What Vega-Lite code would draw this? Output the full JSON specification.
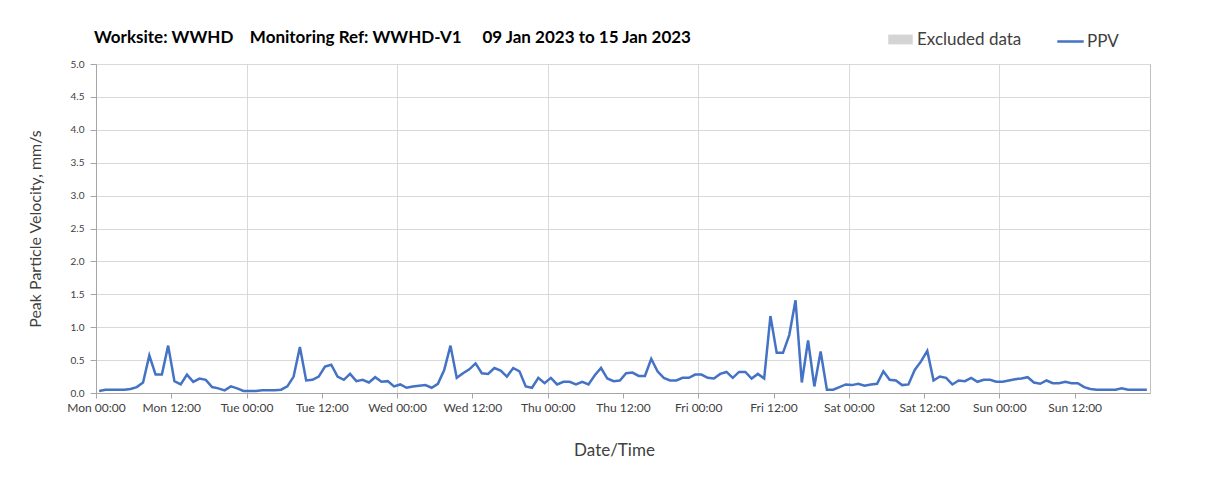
{
  "$schema": "https://vega.github.io/schema/vega-lite/v6.json",
  "width": 1054,
  "height": 329,
  "autosize": {"type": "none"},
  "padding": {"left": 96, "top": 64, "right": 58, "bottom": 93},
  "background": "white",
  "title": {
    "text": "Worksite: WWHD\u00a0\u00a0\u00a0 Monitoring Ref: WWHD-V1\u00a0\u00a0\u00a0\u00a0 09 Jan 2023 to 15 Jan 2023",
    "anchor": "start",
    "frame": "group",
    "font": "Lato",
    "fontSize": 17,
    "fontWeight": "bold",
    "color": "#000000",
    "offset": -20,
    "dx": -2
  },
  "config": {
    "view": {"stroke": "#bfbfbf", "strokeWidth": 1},
    "font": "Lato"
  },
  "data": {
    "values": [
      {"t": "2023-01-09T00:30:00Z", "v": 0.03}, {"t": "2023-01-09T01:30:00Z", "v": 0.05}, {"t": "2023-01-09T02:30:00Z", "v": 0.05}, {"t": "2023-01-09T03:30:00Z", "v": 0.05},
      {"t": "2023-01-09T04:30:00Z", "v": 0.05}, {"t": "2023-01-09T05:30:00Z", "v": 0.06}, {"t": "2023-01-09T06:30:00Z", "v": 0.09}, {"t": "2023-01-09T07:30:00Z", "v": 0.16},
      {"t": "2023-01-09T08:30:00Z", "v": 0.57}, {"t": "2023-01-09T09:30:00Z", "v": 0.28}, {"t": "2023-01-09T10:30:00Z", "v": 0.28}, {"t": "2023-01-09T11:30:00Z", "v": 0.72},
      {"t": "2023-01-09T12:30:00Z", "v": 0.18}, {"t": "2023-01-09T13:30:00Z", "v": 0.13}, {"t": "2023-01-09T14:30:00Z", "v": 0.28}, {"t": "2023-01-09T15:30:00Z", "v": 0.17},
      {"t": "2023-01-09T16:30:00Z", "v": 0.22}, {"t": "2023-01-09T17:30:00Z", "v": 0.2}, {"t": "2023-01-09T18:30:00Z", "v": 0.09}, {"t": "2023-01-09T19:30:00Z", "v": 0.07},
      {"t": "2023-01-09T20:30:00Z", "v": 0.04}, {"t": "2023-01-09T21:30:00Z", "v": 0.1}, {"t": "2023-01-09T22:30:00Z", "v": 0.07}, {"t": "2023-01-09T23:30:00Z", "v": 0.03},
      {"t": "2023-01-10T00:30:00Z", "v": 0.03}, {"t": "2023-01-10T01:30:00Z", "v": 0.03}, {"t": "2023-01-10T02:30:00Z", "v": 0.04}, {"t": "2023-01-10T03:30:00Z", "v": 0.04},
      {"t": "2023-01-10T04:30:00Z", "v": 0.04}, {"t": "2023-01-10T05:30:00Z", "v": 0.05}, {"t": "2023-01-10T06:30:00Z", "v": 0.1}, {"t": "2023-01-10T07:30:00Z", "v": 0.25},
      {"t": "2023-01-10T08:30:00Z", "v": 0.7}, {"t": "2023-01-10T09:30:00Z", "v": 0.19}, {"t": "2023-01-10T10:30:00Z", "v": 0.2}, {"t": "2023-01-10T11:30:00Z", "v": 0.25},
      {"t": "2023-01-10T12:30:00Z", "v": 0.4}, {"t": "2023-01-10T13:30:00Z", "v": 0.43}, {"t": "2023-01-10T14:30:00Z", "v": 0.25}, {"t": "2023-01-10T15:30:00Z", "v": 0.2},
      {"t": "2023-01-10T16:30:00Z", "v": 0.29}, {"t": "2023-01-10T17:30:00Z", "v": 0.18}, {"t": "2023-01-10T18:30:00Z", "v": 0.2}, {"t": "2023-01-10T19:30:00Z", "v": 0.16},
      {"t": "2023-01-10T20:30:00Z", "v": 0.24}, {"t": "2023-01-10T21:30:00Z", "v": 0.17}, {"t": "2023-01-10T22:30:00Z", "v": 0.18}, {"t": "2023-01-10T23:30:00Z", "v": 0.1},
      {"t": "2023-01-11T00:30:00Z", "v": 0.13}, {"t": "2023-01-11T01:30:00Z", "v": 0.08}, {"t": "2023-01-11T02:30:00Z", "v": 0.1}, {"t": "2023-01-11T03:30:00Z", "v": 0.11},
      {"t": "2023-01-11T04:30:00Z", "v": 0.12}, {"t": "2023-01-11T05:30:00Z", "v": 0.08}, {"t": "2023-01-11T06:30:00Z", "v": 0.14}, {"t": "2023-01-11T07:30:00Z", "v": 0.35},
      {"t": "2023-01-11T08:30:00Z", "v": 0.72}, {"t": "2023-01-11T09:30:00Z", "v": 0.23}, {"t": "2023-01-11T10:30:00Z", "v": 0.3}, {"t": "2023-01-11T11:30:00Z", "v": 0.36},
      {"t": "2023-01-11T12:30:00Z", "v": 0.45}, {"t": "2023-01-11T13:30:00Z", "v": 0.3}, {"t": "2023-01-11T14:30:00Z", "v": 0.29}, {"t": "2023-01-11T15:30:00Z", "v": 0.38},
      {"t": "2023-01-11T16:30:00Z", "v": 0.34}, {"t": "2023-01-11T17:30:00Z", "v": 0.25}, {"t": "2023-01-11T18:30:00Z", "v": 0.38}, {"t": "2023-01-11T19:30:00Z", "v": 0.33},
      {"t": "2023-01-11T20:30:00Z", "v": 0.1}, {"t": "2023-01-11T21:30:00Z", "v": 0.08}, {"t": "2023-01-11T22:30:00Z", "v": 0.23}, {"t": "2023-01-11T23:30:00Z", "v": 0.15},
      {"t": "2023-01-12T00:30:00Z", "v": 0.23}, {"t": "2023-01-12T01:30:00Z", "v": 0.13}, {"t": "2023-01-12T02:30:00Z", "v": 0.17}, {"t": "2023-01-12T03:30:00Z", "v": 0.17},
      {"t": "2023-01-12T04:30:00Z", "v": 0.13}, {"t": "2023-01-12T05:30:00Z", "v": 0.17}, {"t": "2023-01-12T06:30:00Z", "v": 0.13}, {"t": "2023-01-12T07:30:00Z", "v": 0.27},
      {"t": "2023-01-12T08:30:00Z", "v": 0.38}, {"t": "2023-01-12T09:30:00Z", "v": 0.22}, {"t": "2023-01-12T10:30:00Z", "v": 0.18}, {"t": "2023-01-12T11:30:00Z", "v": 0.19},
      {"t": "2023-01-12T12:30:00Z", "v": 0.3}, {"t": "2023-01-12T13:30:00Z", "v": 0.31}, {"t": "2023-01-12T14:30:00Z", "v": 0.26}, {"t": "2023-01-12T15:30:00Z", "v": 0.26},
      {"t": "2023-01-12T16:30:00Z", "v": 0.52}, {"t": "2023-01-12T17:30:00Z", "v": 0.33}, {"t": "2023-01-12T18:30:00Z", "v": 0.23}, {"t": "2023-01-12T19:30:00Z", "v": 0.19},
      {"t": "2023-01-12T20:30:00Z", "v": 0.19}, {"t": "2023-01-12T21:30:00Z", "v": 0.23}, {"t": "2023-01-12T22:30:00Z", "v": 0.23}, {"t": "2023-01-12T23:30:00Z", "v": 0.28},
      {"t": "2023-01-13T00:30:00Z", "v": 0.28}, {"t": "2023-01-13T01:30:00Z", "v": 0.23}, {"t": "2023-01-13T02:30:00Z", "v": 0.22}, {"t": "2023-01-13T03:30:00Z", "v": 0.29},
      {"t": "2023-01-13T04:30:00Z", "v": 0.32}, {"t": "2023-01-13T05:30:00Z", "v": 0.23}, {"t": "2023-01-13T06:30:00Z", "v": 0.32}, {"t": "2023-01-13T07:30:00Z", "v": 0.32},
      {"t": "2023-01-13T08:30:00Z", "v": 0.22}, {"t": "2023-01-13T09:30:00Z", "v": 0.29}, {"t": "2023-01-13T10:30:00Z", "v": 0.22}, {"t": "2023-01-13T11:30:00Z", "v": 1.17},
      {"t": "2023-01-13T12:30:00Z", "v": 0.61}, {"t": "2023-01-13T13:30:00Z", "v": 0.61}, {"t": "2023-01-13T14:30:00Z", "v": 0.88}, {"t": "2023-01-13T15:30:00Z", "v": 1.41},
      {"t": "2023-01-13T16:30:00Z", "v": 0.16}, {"t": "2023-01-13T17:30:00Z", "v": 0.8}, {"t": "2023-01-13T18:30:00Z", "v": 0.1}, {"t": "2023-01-13T19:30:00Z", "v": 0.63},
      {"t": "2023-01-13T20:30:00Z", "v": 0.05}, {"t": "2023-01-13T21:30:00Z", "v": 0.05}, {"t": "2023-01-13T22:30:00Z", "v": 0.09}, {"t": "2023-01-13T23:30:00Z", "v": 0.13},
      {"t": "2023-01-14T00:30:00Z", "v": 0.12}, {"t": "2023-01-14T01:30:00Z", "v": 0.14}, {"t": "2023-01-14T02:30:00Z", "v": 0.11}, {"t": "2023-01-14T03:30:00Z", "v": 0.13},
      {"t": "2023-01-14T04:30:00Z", "v": 0.14}, {"t": "2023-01-14T05:30:00Z", "v": 0.33}, {"t": "2023-01-14T06:30:00Z", "v": 0.2}, {"t": "2023-01-14T07:30:00Z", "v": 0.19},
      {"t": "2023-01-14T08:30:00Z", "v": 0.12}, {"t": "2023-01-14T09:30:00Z", "v": 0.13}, {"t": "2023-01-14T10:30:00Z", "v": 0.35}, {"t": "2023-01-14T11:30:00Z", "v": 0.48},
      {"t": "2023-01-14T12:30:00Z", "v": 0.64}, {"t": "2023-01-14T13:30:00Z", "v": 0.19}, {"t": "2023-01-14T14:30:00Z", "v": 0.25}, {"t": "2023-01-14T15:30:00Z", "v": 0.23},
      {"t": "2023-01-14T16:30:00Z", "v": 0.13}, {"t": "2023-01-14T17:30:00Z", "v": 0.19}, {"t": "2023-01-14T18:30:00Z", "v": 0.18}, {"t": "2023-01-14T19:30:00Z", "v": 0.23},
      {"t": "2023-01-14T20:30:00Z", "v": 0.17}, {"t": "2023-01-14T21:30:00Z", "v": 0.2}, {"t": "2023-01-14T22:30:00Z", "v": 0.2}, {"t": "2023-01-14T23:30:00Z", "v": 0.17},
      {"t": "2023-01-15T00:30:00Z", "v": 0.17}, {"t": "2023-01-15T01:30:00Z", "v": 0.19}, {"t": "2023-01-15T02:30:00Z", "v": 0.21}, {"t": "2023-01-15T03:30:00Z", "v": 0.22},
      {"t": "2023-01-15T04:30:00Z", "v": 0.24}, {"t": "2023-01-15T05:30:00Z", "v": 0.16}, {"t": "2023-01-15T06:30:00Z", "v": 0.14}, {"t": "2023-01-15T07:30:00Z", "v": 0.19},
      {"t": "2023-01-15T08:30:00Z", "v": 0.15}, {"t": "2023-01-15T09:30:00Z", "v": 0.15}, {"t": "2023-01-15T10:30:00Z", "v": 0.17}, {"t": "2023-01-15T11:30:00Z", "v": 0.15},
      {"t": "2023-01-15T12:30:00Z", "v": 0.15}, {"t": "2023-01-15T13:30:00Z", "v": 0.09}, {"t": "2023-01-15T14:30:00Z", "v": 0.06}, {"t": "2023-01-15T15:30:00Z", "v": 0.05},
      {"t": "2023-01-15T16:30:00Z", "v": 0.05}, {"t": "2023-01-15T17:30:00Z", "v": 0.05}, {"t": "2023-01-15T18:30:00Z", "v": 0.05}, {"t": "2023-01-15T19:30:00Z", "v": 0.07},
      {"t": "2023-01-15T20:30:00Z", "v": 0.05}, {"t": "2023-01-15T21:30:00Z", "v": 0.05}, {"t": "2023-01-15T22:30:00Z", "v": 0.05}, {"t": "2023-01-15T23:30:00Z", "v": 0.05}
    ]
  },
  "layer": [
    {
      "mark": {"type": "line", "strokeWidth": 2.5},
      "encoding": {
        "x": {
          "field": "t",
          "type": "temporal",
          "scale": {"type": "utc", "domain": [1673222400000, 1673827200000]},
          "axis": {
            "title": "Date/Time",
            "titleFont": "Lato",
            "titleFontSize": 17,
            "titleFontWeight": "normal",
            "titleColor": "#404040",
            "titlePadding": 29,
            "titleX": 518,
            "values": [1673222400000, 1673265600000, 1673308800000, 1673352000000, 1673395200000, 1673438400000, 1673481600000, 1673524800000, 1673568000000, 1673611200000, 1673654400000, 1673697600000, 1673740800000, 1673784000000],
            "format": "%a %H:%M",
            "labelFont": "Lato",
            "labelFontSize": 12,
            "labelColor": "#404040",
            "labelFlush": false,
            "labelOverlap": false,
            "labelPadding": 4,
            "tickSize": 5,
            "tickColor": "#a6a6a6",
            "domainColor": "#a6a6a6",
            "grid": true,
            "gridColor": "#d9d9d9",
            "gridOpacity": {"condition": {"test": "utchours(datum.value) == 0", "value": 1}, "value": 0}
          }
        },
        "y": {
          "field": "v",
          "type": "quantitative",
          "scale": {"domain": [0, 5]},
          "axis": {
            "title": "Peak Particle Velocity, mm/s",
            "titleFont": "Lato",
            "titleFontSize": 16,
            "titleFontWeight": "normal",
            "titleColor": "#404040",
            "titlePadding": 27,
            "values": [0, 0.5, 1, 1.5, 2, 2.5, 3, 3.5, 4, 4.5, 5],
            "format": ".1f",
            "labelFont": "Lato",
            "labelFontSize": 10,
            "labelColor": "#404040",
            "labelPadding": 6,
            "tickSize": 6,
            "tickColor": "#a6a6a6",
            "domainColor": "#a6a6a6",
            "grid": true,
            "gridColor": "#d9d9d9"
          }
        },
        "stroke": {
          "datum": "PPV",
          "scale": {"range": ["#4472C4"]},
          "legend": {
            "title": null,
            "orient": "none",
            "legendX": 960,
            "legendY": -37,
            "padding": 0,
            "symbolType": "stroke",
            "symbolSize": 700,
            "symbolStrokeWidth": 2.5,
            "labelFont": "Lato",
            "labelFontSize": 17,
            "labelColor": "#404040",
            "labelOffset": 2
          }
        }
      }
    },
    {
      "data": {"values": []},
      "mark": {"type": "rect"},
      "encoding": {
        "fill": {
          "datum": "Excluded data",
          "scale": {"range": ["#d4d4d4"]},
          "legend": {
            "title": null,
            "orient": "none",
            "legendX": 792,
            "legendY": -37,
            "padding": 0,
            "symbolType": "M-1,-0.4H1V0.4H-1Z",
            "symbolSize": 600,
            "symbolStrokeWidth": 0,
            "labelFont": "Lato",
            "labelFontSize": 17,
            "labelColor": "#404040",
            "labelOffset": 4
          }
        }
      }
    }
  ]
}
